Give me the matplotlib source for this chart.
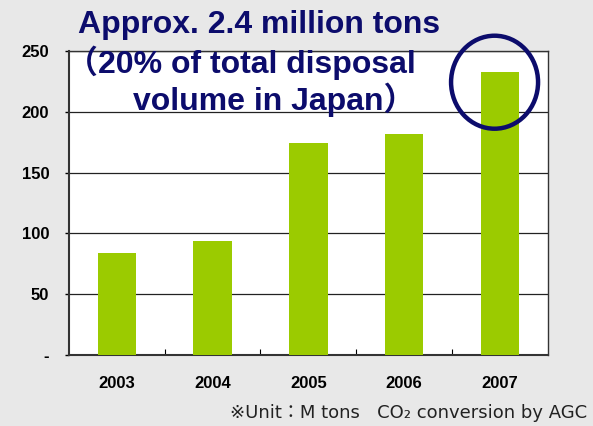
import matplotlib
matplotlib.use("Agg")
import matplotlib.pyplot as plt
from matplotlib.patches import Ellipse

years = ["2003", "2004", "2005", "2006", "2007"]
volume = [84, 94, 174, 182, 233]
yticks = [0, 50, 100, 150, 200, 250]
ytick_labels = ["-", "50", "100", "150", "200", "250"]

NAVY = "#0c0c6c"
GREEN = "#9bcb00"
BG = "#e8e8e8"
SANS = ["Liberation Sans", "Noto Sans CJK JP", "DejaVu Sans"]

fig = plt.figure(figsize=(5.93, 4.26), dpi=100, facecolor=BG)
ax = fig.add_axes([0.116, 0.167, 0.808, 0.713])
ax.set_facecolor("white")

x = range(len(years))
ax.bar(x, volume, width=0.4, color=GREEN, zorder=3)

ax.set_xlim(-0.5, len(years) - 0.5)
ax.set_ylim(0, 250)
ax.set_yticks(yticks)
ax.set_yticklabels(ytick_labels, fontsize=12, fontweight="bold", family=SANS)
ax.set_xticks(list(x))
ax.set_xticklabels(years, fontsize=12, fontweight="bold", family=SANS)
ax.tick_params(axis="x", length=0, pad=15)
ax.tick_params(axis="y", length=3, width=1, pad=11, direction="out")
# small inward marks between categories
ax.set_xticks([i + 0.5 for i in range(len(years) - 1)], minor=True)
ax.tick_params(axis="x", which="minor", direction="in", length=4, width=0.8)
ax.grid(axis="y", color="#222222", lw=0.9, zorder=1)
for s in ax.spines.values():
    s.set_color("#333333")
    s.set_linewidth(1.0)
ax.spines["left"].set_linewidth(1.5)
ax.spines["bottom"].set_linewidth(1.5)

# highlight the 2007 bar
circ = Ellipse((0.834, 0.807), 87 / 593, 93 / 426, transform=fig.transFigure,
               fill=False, ec=NAVY, lw=3.2, zorder=10)
fig.patches.append(circ)

title_kw = dict(ha="center", va="baseline", fontsize=23, fontweight="bold",
                color=NAVY, family=SANS)
fig.text(0.437, 0.922, "Approx. 2.4 million tons", **title_kw)
fig.text(0.407, 0.829, "（20% of total disposal", **title_kw)
fig.text(0.462, 0.742, "volume in Japan）", **title_kw)

fig.text(0.990, 0.019, "※Unit：M tons   CO₂ conversion by AGC", ha="right", va="baseline",
         fontsize=13, color="#222222", family=["DejaVu Sans", "Noto Sans CJK JP"])

fig.savefig("out.png", dpi=100, facecolor=BG)
